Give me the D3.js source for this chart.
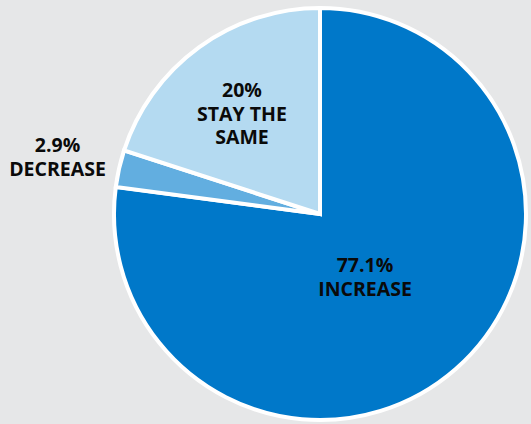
<!DOCTYPE html>
<html><head><meta charset="utf-8">
<script src="https://cdn.jsdelivr.net/npm/d3@7"></script>
<style>html,body{margin:0;padding:0;background:#e6e7e8;}svg{display:block;}</style>
</head><body>
<svg id="c" width="531" height="424"></svg>
<script>
const categories = ["INCREASE", "DECREASE", "STAY THE SAME"];
const values = [77.1, 2.9, 20];
const valueLabels = ["77.1%", "2.9%", "20%"];
const colors = ["#0078c9", "#62aee0", "#b4daf1"];

const svg = d3.select("#c");
const cx = 320, cy = 214, r = 206;
const g = svg.append("g").attr("transform", `translate(${cx},${cy})`);
const pie = d3.pie().sort(null).value(d => d)(values);
const arc = d3.arc().innerRadius(0).outerRadius(r);
g.selectAll("path").data(pie).enter().append("path")
  .attr("d", arc).attr("fill", (d, i) => colors[i])
  .attr("stroke", "#fff").attr("stroke-width", 4).attr("stroke-linejoin", "miter");

// label positions (relative to centre)
const labelPos = [[45, 58], [-262.5, -62], [-78, -117]];
const labelLines = [
  [valueLabels[0], "INCREASE"],
  [valueLabels[1], "DECREASE"],
  [valueLabels[2], "STAY THE", "SAME"]
];
labelLines.forEach((lines, i) => {
  const t = g.append("text").attr("text-anchor", "middle")
    .attr("font-family", "Open Sans, sans-serif").attr("font-weight", 700)
    .attr("font-size", 19.5).attr("fill", "#0a0a0a")
    .attr("transform", `translate(${labelPos[i][0]},${labelPos[i][1]})`);
  lines.forEach((s, j) => t.append("tspan").attr("x", 0).attr("dy", j === 0 ? 0 : 23.5).text(s));
});
</script>
</body></html>
